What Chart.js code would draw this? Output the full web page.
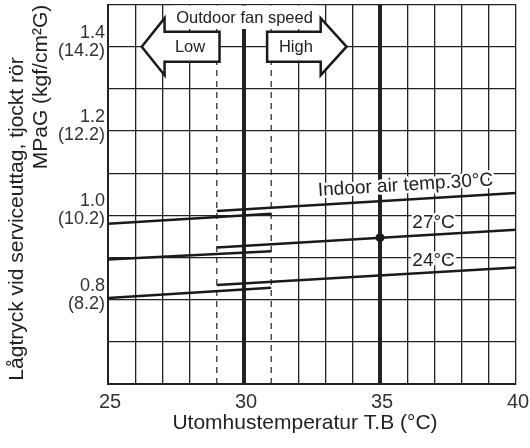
<!DOCTYPE html>
<html>
<head>
<meta charset="utf-8">
<script src="https://cdn.jsdelivr.net/npm/chart.js"></script>
<style>
  html, body { margin: 0; padding: 0; background: #fff; }
  #wrap { width: 530px; height: 448px; }
</style>
</head>
<body>
<div id="wrap"><canvas id="chart" width="530" height="448"></canvas></div>
<script>
// axis ranges and tick labels
const xRange = [25, 40];
const yRange = [0.6, 1.5];
const xTickLabels = [25, 30, 35, 40];
const yTickValues = [0.8, 1.0, 1.2, 1.4];
const yTickLabels = [['0.8', '(8.2)'], ['1.0', '(10.2)'], ['1.2', '(12.2)'], ['1.4', '(14.2)']];
const thickLines = [30, 35];
const fanLimits = [29, 31];

// outdoor temp where the low / high fan segments start and end
const lowFanX = [25, 31];
const highFanX = [29, 40];
// low pressure (MPaG) per indoor air temp
const temp30Low = [0.980, 1.004];
const temp30High = [1.010, 1.053];
const temp27Low = [0.895, 0.915];
const temp27High = [0.924, 0.966];
const temp24Low = [0.804, 0.828];
const temp24High = [0.835, 0.876];
const ratedPoint = [35, 0.947];

const FONT = "'Liberation Sans', Arial, sans-serif";
const INK = '#1a1a1a';

function seg(xs, ys) {
  return xs.map((x, i) => ({ x: x, y: ys[i] }));
}

function curve(xs, ys) {
  return { data: seg(xs, ys), borderColor: INK, borderWidth: 2.5, pointRadius: 0, tension: 0 };
}

function near(v, list) {
  return list.findIndex(t => Math.abs(t - v) < 1e-6);
}

const datasets = [
  curve(lowFanX, temp30Low),
  curve(highFanX, temp30High),
  curve(lowFanX, temp27Low),
  curve(highFanX, temp27High),
  curve(lowFanX, temp24Low),
  curve(highFanX, temp24High),
  {
    data: [{ x: ratedPoint[0], y: ratedPoint[1] }],
    showLine: false, pointRadius: 4.5, pointBackgroundColor: INK, pointBorderWidth: 0
  }
];
fanLimits.forEach(x => {
  datasets.push({
    data: seg([x, x], yRange), borderColor: '#222', borderWidth: 1.2,
    borderDash: [6, 5], pointRadius: 0
  });
});

// labels, arrows and axis titles drawn on top
const labelsPlugin = {
  id: 'labels',
  beforeDatasetsDraw(chart) {
    const ctx = chart.ctx;
    const xs = chart.scales.x, ys = chart.scales.y;
    const ang = Math.atan2(
      ys.getPixelForValue(temp30High[1]) - ys.getPixelForValue(temp30High[0]),
      xs.getPixelForValue(highFanX[1]) - xs.getPixelForValue(highFanX[0]));
    const items = [
      ['Indoor air temp.30°C', 35.94, 1.071, ang],
      ['27°C', 36.97, 0.9825, 0],
      ['24°C', 36.97, 0.8925, 0]
    ];
    ctx.save();
    ctx.font = '19px ' + FONT;
    ctx.textAlign = 'center';
    ctx.textBaseline = 'middle';
    ctx.lineJoin = 'round';
    items.forEach(([t, vx, vy, a]) => {
      ctx.save();
      ctx.translate(xs.getPixelForValue(vx), ys.getPixelForValue(vy));
      ctx.rotate(a);
      ctx.strokeStyle = '#fff';
      ctx.lineWidth = 5;
      ctx.strokeText(t, 0, 0);
      ctx.fillStyle = '#222';
      ctx.fillText(t, 0, 0);
      ctx.restore();
    });
    ctx.restore();
  },
  afterDatasetsDraw(chart) {
    const ctx = chart.ctx;
    const xs = chart.scales.x, ys = chart.scales.y;
    const cy = ys.getPixelForValue(1.4);
    const head = 28.5, shaft = 15;
    function arrow(tip, neck, tail, label) {
      const pt = xs.getPixelForValue(tip), pn = xs.getPixelForValue(neck), pl = xs.getPixelForValue(tail);
      ctx.beginPath();
      ctx.moveTo(pt, cy);
      ctx.lineTo(pn, cy - head);
      ctx.lineTo(pn, cy - shaft);
      ctx.lineTo(pl, cy - shaft);
      ctx.lineTo(pl, cy + shaft);
      ctx.lineTo(pn, cy + shaft);
      ctx.lineTo(pn, cy + head);
      ctx.closePath();
      ctx.fillStyle = '#fff';
      ctx.fill();
      ctx.strokeStyle = INK;
      ctx.lineWidth = 2.5;
      ctx.lineJoin = 'miter';
      ctx.stroke();
      ctx.fillStyle = '#222';
      ctx.font = '16.5px ' + FONT;
      ctx.textAlign = 'center';
      ctx.textBaseline = 'middle';
      ctx.fillText(label, (pn + pl) / 2 - (pn < pl ? 2 : -2), cy + 1);
    }
    ctx.save();
    arrow(26.24, 27.08, 29.1, 'Low');
    arrow(33.77, 32.82, 30.85, 'High');

    const t = 'Outdoor fan speed';
    ctx.font = '16.5px ' + FONT;
    const w = ctx.measureText(t).width;
    const tx = xs.getPixelForValue(30.02);
    const top = chart.chartArea.top;
    ctx.fillStyle = '#fff';
    ctx.fillRect(tx - w / 2 - 3, top + 1, w + 6, 28 - top);
    ctx.fillStyle = '#222';
    ctx.textAlign = 'center';
    ctx.textBaseline = 'middle';
    ctx.fillText(t, tx, 18.5);
    ctx.restore();
  },
  afterDraw(chart) {
    const ctx = chart.ctx;
    ctx.save();
    ctx.fillStyle = '#222';
    ctx.font = '21px ' + FONT;
    ctx.textAlign = 'center';
    ctx.textBaseline = 'middle';
    ctx.fillText('Utomhustemperatur T.B (°C)', 305, 423);
    ctx.translate(17, 219);
    ctx.rotate(-Math.PI / 2);
    ctx.fillText('Lågtryck vid serviceuttag, tjockt rör', 0, 0);
    ctx.fillText('MPaG (kgf/cm²G)', 132, 24);
    ctx.restore();
  }
};

new Chart(document.getElementById('chart'), {
  type: 'line',
  data: { datasets: datasets },
  options: {
    responsive: false,
    animation: false,
    layout: { padding: { top: 4, right: 14, left: 0, bottom: 0 } },
    plugins: { legend: { display: false }, tooltip: { enabled: false } },
    scales: {
      x: {
        type: 'linear', min: xRange[0], max: xRange[1],
        ticks: {
          stepSize: 1, autoSkip: false, maxRotation: 0, padding: 6, labelOffset: 2,
          color: '#333', font: { family: FONT, size: 20 },
          callback: v => xTickLabels.includes(v) ? String(v) : ''
        },
        grid: {
          drawTicks: false,
          color: c => (c.tick && fanLimits.includes(c.tick.value)) ? 'rgba(0,0,0,0)' : '#222',
          lineWidth: c => (c.tick && thickLines.includes(c.tick.value)) ? 4 : 1.3
        },
        border: { color: '#222', width: 2 },
        afterFit: s => { s.height = 64; s.paddingLeft = 0; s.paddingRight = 0; }
      },
      y: {
        type: 'linear', min: yRange[0], max: yRange[1],
        ticks: {
          stepSize: 0.1, autoSkip: false, padding: 3, labelOffset: -5,
          color: '#333', font: { family: FONT, size: 18, lineHeight: 1.0 },
          callback: v => { const i = near(v, yTickValues); return i >= 0 ? yTickLabels[i] : ''; }
        },
        grid: { drawTicks: false, color: '#222', lineWidth: 1.3 },
        border: { color: '#222', width: 2 },
        afterFit: s => { s.width = 108; s.paddingTop = 0; s.paddingBottom = 0; }
      }
    }
  },
  plugins: [labelsPlugin]
});
</script>
</body>
</html>
